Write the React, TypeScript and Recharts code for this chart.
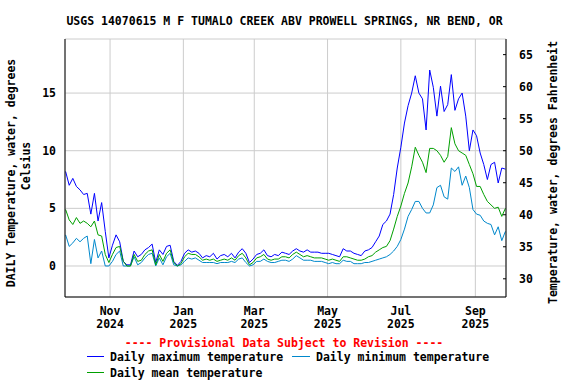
import { LineChart, Line, XAxis, YAxis, CartesianGrid } from 'recharts'

// daily water temperature, USGS 14070615, sampled every 3 days from 2024-09-25
const STEP = 3

const MAX_T = [
  8.2, 7.0, 7.6, 6.9, 6.6, 6.2, 6.3, 4.5, 6.3, 3.9, 5.5, 3.0, 0.7, 1.8, 2.7, 2.1, 0.4, 0.1, 0.1, 1.3,
  0.8, 1.0, 1.4, 1.6, 1.9, 0.3, 1.4, 1.0, 1.7, 1.8, 0.4, 0.05, 0.4,
  1.1, 1.4, 1.2, 1.3, 1.1, 0.7, 0.9, 0.8, 1.1, 0.6, 0.9, 1.0, 0.8, 1.1, 0.7, 1.2, 1.5, 1.1, 0.3, 0.6,
  1.0, 1.1, 1.4, 0.9, 0.8, 1.0, 0.9, 1.2, 1.1, 1.0, 1.3, 1.5, 1.3, 1.2, 1.4, 1.2, 1.2, 1.2, 1.1, 1.1,
  1.1, 1.0, 0.9, 0.8, 1.5, 1.3, 1.3, 1.1, 1.0, 0.9,
  1.3, 1.4, 1.6, 2.1, 2.6, 3.6, 3.9, 4.5, 6.2, 8.5, 10.3, 12.4, 13.9, 15.0, 16.5, 15.0, 14.5, 11.8,
  17.0, 15.5, 13.0, 15.6, 13.4, 14.0, 16.6, 13.5, 14.5, 15.0, 13.0, 10.0, 11.8, 11.3, 9.8, 8.8, 7.5,
  8.8, 9.0, 7.2, 8.5, 8.4,
]

const MIN_T = [
  2.7, 1.7, 2.0, 2.4, 2.1, 2.4, 2.6, 0.2, 2.3, 0.7, 1.3, 0.0, 0.0, 0.4, 1.0, 1.3, 0.0, 0.0, 0.0, 0.8,
  0.1, 0.3, 0.7, 1.0, 1.1, 0.0, 0.7, 0.1, 0.8, 1.1, 0.1, 0.0, 0.1,
  0.4, 0.7, 0.6, 0.7, 0.5, 0.3, 0.3, 0.3, 0.3, 0.2, 0.3, 0.3, 0.3, 0.4, 0.3, 0.6, 0.7, 0.3, 0.0, 0.1,
  0.4, 0.4, 0.6, 0.4, 0.3, 0.3, 0.4, 0.5, 0.5, 0.4, 0.6, 0.9, 0.7, 0.5, 0.5, 0.5, 0.4, 0.4, 0.4, 0.3,
  0.2, 0.3, 0.2, 0.2, 0.5, 0.4, 0.4, 0.2, 0.2, 0.2,
  0.3, 0.3, 0.4, 0.5, 0.6, 0.7, 0.8, 1.0, 1.3, 1.7, 2.3, 3.2, 4.3, 4.9, 5.6, 5.6, 5.0, 4.6,
  4.6, 5.3, 6.8, 7.0, 6.0, 5.8, 8.5, 8.2, 8.6, 7.0, 7.8, 6.8, 4.9, 4.5, 4.4, 3.9, 3.7,
  3.6, 2.7, 3.4, 2.2, 3.0,
]

const MEAN_T = [
  4.9, 4.0, 3.6, 4.2, 3.7, 3.9, 3.7, 3.4, 3.9, 2.7, 2.6, 1.0, 0.3, 1.0, 1.6, 1.7, 0.4, 0.0, 0.0, 1.0,
  0.4, 0.5, 1.0, 1.3, 1.4, 0.1, 1.0, 0.4, 1.1, 1.4, 0.3, 0.0, 0.2,
  0.8, 1.1, 1.0, 1.0, 0.8, 0.5, 0.6, 0.5, 0.6, 0.4, 0.5, 0.6, 0.5, 0.7, 0.5, 0.9, 1.1, 0.7, 0.1, 0.3,
  0.7, 0.8, 1.0, 0.6, 0.5, 0.6, 0.6, 0.8, 0.8, 0.7, 1.0, 1.2, 1.0, 0.8, 0.9, 0.8, 0.7, 0.7, 0.7, 0.6,
  0.5, 0.6, 0.5, 0.4, 0.8, 0.8, 0.7, 0.6, 0.5, 0.5,
  0.6, 0.8, 0.9, 1.2, 1.4, 1.6, 1.7, 2.2, 3.2, 4.3, 5.2, 6.3, 7.2, 8.6, 10.3, 9.6, 9.0, 8.1,
  10.2, 10.2, 10.0, 9.6, 9.0, 9.5, 12.0, 10.6, 10.0, 9.8, 9.6, 8.8, 8.0, 6.9, 6.9, 6.2, 5.6,
  5.3, 5.0, 5.1, 4.3, 5.0,
]

// days after 2024-09-25 for the first of each labelled month
const TICK_DAYS = [37, 98, 157, 218, 279, 341]
const MONTH_LABELS = ['Nov', 'Jan', 'Mar', 'May', 'Jul', 'Sep']
const YEAR_LABELS = ['2024', '2025', '2025', '2025', '2025', '2025']

const C_TICKS = [0, 5, 10, 15]
const F_TICKS = [30, 35, 40, 45, 50, 55, 60, 65]
const C_DOMAIN = [-2.69, 19.69]
const F_DOMAIN = [C_DOMAIN[0] * 1.8 + 32, C_DOMAIN[1] * 1.8 + 32]

const DATA = MAX_T.map((v, i) => ({ day: i * STEP, max: v, min: MIN_T[i], mean: MEAN_T[i] }))

const FONT = '"DejaVu Sans Mono", monospace'
const TXT = { fontFamily: FONT, fontSize: 11.5, fontWeight: 'bold' as const, fill: '#000' }

const MAX_COLOR = '#0000ff'
const MIN_COLOR = '#0088cc'
const MEAN_COLOR = '#00a000'

function MonthTick(props: any) {
  const { x, y, payload } = props
  const i = TICK_DAYS.indexOf(payload.value)
  return (
    <text textAnchor="middle" style={TXT}>
      <tspan x={x} y={y + 10}>{MONTH_LABELS[i]}</tspan>
      <tspan x={x} y={y + 23}>{YEAR_LABELS[i]}</tspan>
    </text>
  )
}

export default function App() {
  return (
    <div style={{ position: 'relative', width: 576, height: 384, background: '#fff' }}>
      <style>{'body{margin:0}'}</style>
      <LineChart width={576} height={384} data={DATA} margin={{ top: 39, right: 0, bottom: 0, left: 0 }}>
        <CartesianGrid stroke="#cccccc" />
        <XAxis
          dataKey="day"
          type="number"
          domain={[-0.5, 366.5]}
          ticks={TICK_DAYS}
          interval={0}
          tick={<MonthTick />}
          tickLine={false}
          axisLine={{ stroke: '#000' }}
          height={87}
          allowDataOverflow
        />
        <XAxis
          xAxisId="top"
          orientation="top"
          dataKey="day"
          type="number"
          domain={[-0.5, 366.5]}
          tick={false}
          tickLine={false}
          axisLine={{ stroke: '#000' }}
          height={0}
          allowDataOverflow
        />
        <YAxis
          domain={C_DOMAIN}
          ticks={C_TICKS}
          interval={0}
          width={65}
          tickLine={false}
          tickSize={0}
          tickMargin={9}
          axisLine={{ stroke: '#000' }}
          tick={TXT}
          allowDataOverflow
        />
        <YAxis
          yAxisId="f"
          orientation="right"
          domain={F_DOMAIN}
          ticks={F_TICKS}
          interval={0}
          width={70}
          tickSize={-3}
          tickMargin={16}
          tickLine={{ stroke: '#000' }}
          axisLine={{ stroke: '#000' }}
          tick={TXT}
          allowDataOverflow
        />
        <Line dataKey="max" stroke={MAX_COLOR} strokeWidth={1} dot={false} isAnimationActive={false} />
        <Line dataKey="min" stroke={MIN_COLOR} strokeWidth={1} dot={false} isAnimationActive={false} />
        <Line dataKey="mean" stroke={MEAN_COLOR} strokeWidth={1} dot={false} isAnimationActive={false} />
      </LineChart>

      <svg width={576} height={384} style={{ position: 'absolute', left: 0, top: 0, pointerEvents: 'none' }}>
        <text x={284.5} y={25} textAnchor="middle" style={TXT}>
          USGS 14070615 M F TUMALO CREEK ABV PROWELL SPRINGS, NR BEND, OR
        </text>
        <text transform="translate(15,173) rotate(-90)" textAnchor="middle" style={TXT}>
          DAILY Temperature, water, degrees
        </text>
        <text transform="translate(29.5,166) rotate(-90)" textAnchor="middle" style={TXT}>
          Celsius
        </text>
        <text transform="translate(557,172.5) rotate(-90)" textAnchor="middle" style={TXT}>
          Temperature, water, degrees Fahrenheit
        </text>
        <text x={284} y={347} textAnchor="middle" style={{ ...TXT, fill: '#ff0000' }}>
          ---- Provisional Data Subject to Revision ----
        </text>
        <line x1={87} x2={104} y1={356.5} y2={356.5} stroke={MAX_COLOR} />
        <text x={110} y={360.7} style={TXT}>Daily maximum temperature</text>
        <line x1={292} x2={310} y1={356.5} y2={356.5} stroke={MIN_COLOR} />
        <text x={316} y={360.7} style={TXT}>Daily minimum temperature</text>
        <line x1={87} x2={104} y1={372.5} y2={372.5} stroke={MEAN_COLOR} />
        <text x={110} y={376.7} style={TXT}>Daily mean temperature</text>
      </svg>
    </div>
  )
}
